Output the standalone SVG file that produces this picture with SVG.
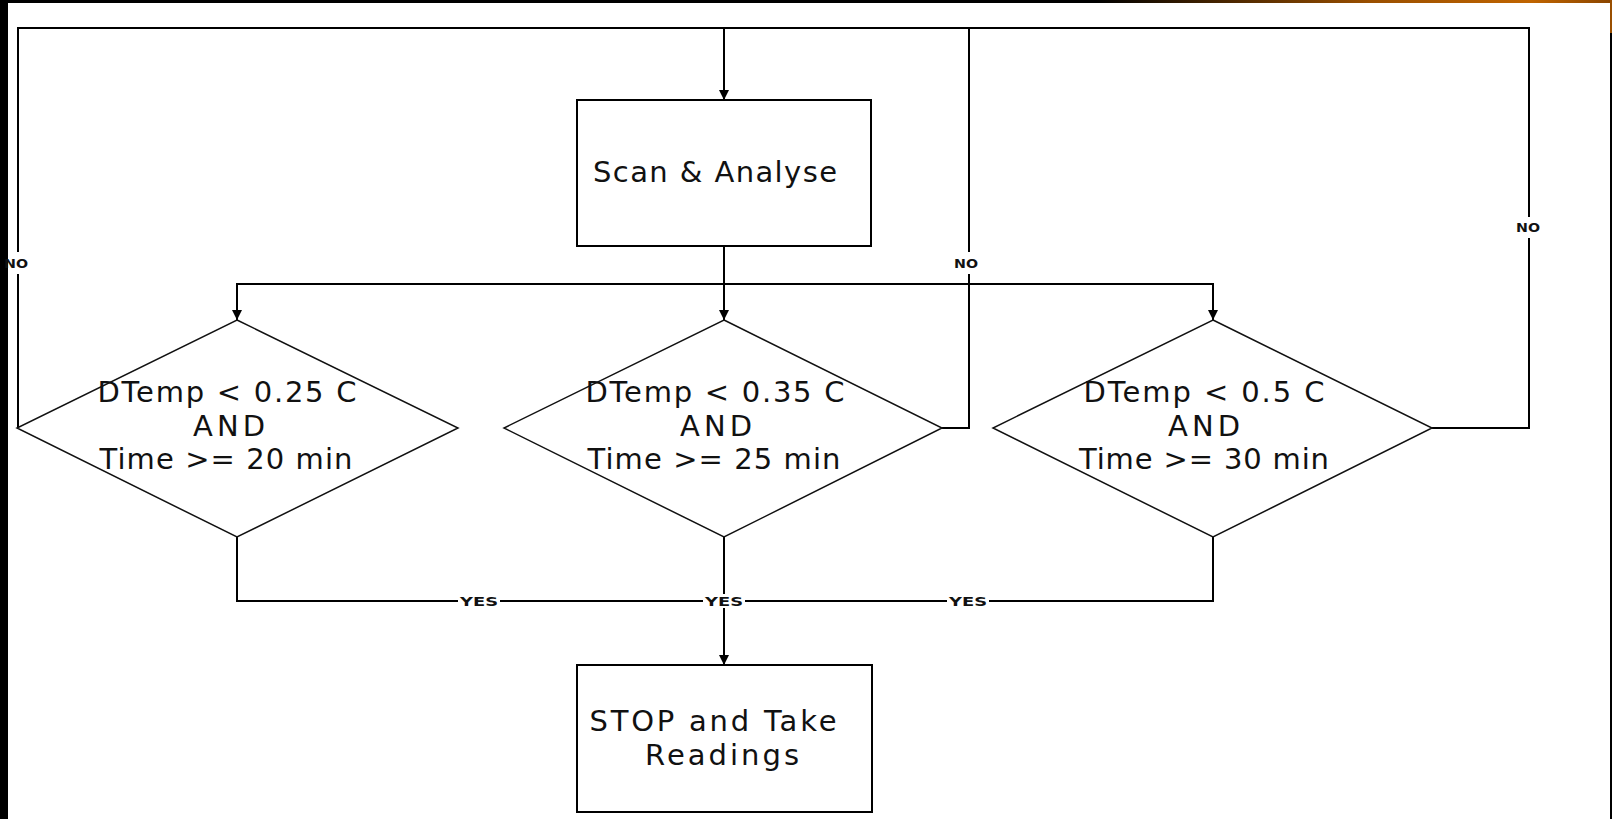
<svg xmlns="http://www.w3.org/2000/svg" width="1612" height="819" viewBox="0 0 1612 819">
  <style>
    .box { fill: #fff; stroke: #000; stroke-width: 2; }
    .dia { fill: #fff; stroke: #111; stroke-width: 1.5; }
    .conn { fill: none; stroke: #000; stroke-width: 2; }
    .txt { font-family: "DejaVu Sans", Verdana, sans-serif; font-size: 29px; fill: #111; text-anchor: middle; }
    .lbl { font-family: "DejaVu Sans", Verdana, sans-serif; font-size: 12px; font-weight: bold; fill: #111; text-anchor: middle; }
    .lblbg { fill: #fff; }
  </style>
  <defs>
    <marker id="arr" viewBox="0 0 10 10" refX="10" refY="5" markerWidth="11" markerHeight="10" markerUnits="userSpaceOnUse" orient="auto">
      <path d="M0,0 L10,5 L0,10 Z" fill="#000"/>
    </marker>
    <linearGradient id="topbar" x1="0" y1="0" x2="1" y2="0">
      <stop offset="0" stop-color="#000"/>
      <stop offset="0.68" stop-color="#000"/>
      <stop offset="0.85" stop-color="#9a4f00"/>
      <stop offset="0.95" stop-color="#c06400"/>
      <stop offset="1" stop-color="#8a4500"/>
    </linearGradient>
  </defs>

  <rect x="0" y="0" width="1612" height="819" fill="#fff"/>
  <!-- frame -->
  <rect x="0" y="0" width="1612" height="3" fill="url(#topbar)"/>
  <rect x="0" y="0" width="8" height="819" fill="#000"/>
  <rect x="1610" y="0" width="2" height="33" fill="#9a4f00"/>
  <rect x="1610" y="33" width="2" height="786" fill="#000"/>

  <g id="connectors">
    <path class="conn" d="M18,428 V28 H724"/>
    <path class="conn" d="M942,428 H969 V28 H724"/>
    <path class="conn" d="M1432,428 H1529 V28 H724"/>
    <path class="conn" d="M724,28 V100" marker-end="url(#arr)"/>
    <path class="conn" d="M724,246 V320" marker-end="url(#arr)"/>
    <path class="conn" d="M724,284 H237 V320" marker-end="url(#arr)"/>
    <path class="conn" d="M724,284 H1213 V320" marker-end="url(#arr)"/>
    <path class="conn" d="M237,537 V601 H724"/>
    <path class="conn" d="M1213,537 V601 H724"/>
    <path class="conn" d="M724,537 V665" marker-end="url(#arr)"/>
    <g id="labels">
      <rect class="lblbg" x="9" y="252" width="20" height="22"/>
      <text class="lbl" x="16" y="268" textLength="24" lengthAdjust="spacingAndGlyphs">NO</text>
      <rect class="lblbg" x="955" y="252" width="28" height="22"/>
      <text class="lbl" x="966" y="268" textLength="24" lengthAdjust="spacingAndGlyphs">NO</text>
      <rect class="lblbg" x="1514" y="217" width="30" height="21"/>
      <text class="lbl" x="1528" y="232" textLength="24" lengthAdjust="spacingAndGlyphs">NO</text>
      <rect class="lblbg" x="458" y="594" width="42" height="14"/>
      <text class="lbl" x="479" y="606" textLength="38" lengthAdjust="spacingAndGlyphs">YES</text>
      <rect class="lblbg" x="703" y="594" width="42" height="14"/>
      <text class="lbl" x="724" y="606" textLength="38" lengthAdjust="spacingAndGlyphs">YES</text>
      <rect class="lblbg" x="947" y="594" width="42" height="14"/>
      <text class="lbl" x="968" y="606" textLength="38" lengthAdjust="spacingAndGlyphs">YES</text>
    </g>
  </g>

  <g id="scan">
    <rect class="box" x="577" y="100" width="294" height="146"/>
    <text class="txt" x="715" y="182" textLength="244" lengthAdjust="spacing">Scan &amp; Analyse</text>
  </g>

  <g id="dec1">
    <polygon class="dia" points="237,320 458,428 237,537 17,428"/>
    <text class="txt" x="227" y="402" textLength="259" lengthAdjust="spacing">DTemp &lt; 0.25 C</text>
    <text class="txt" x="229" y="436" textLength="72" lengthAdjust="spacing">AND</text>
    <text class="txt" x="226" y="469" textLength="253" lengthAdjust="spacing">Time &gt;= 20 min</text>
  </g>

  <g id="dec2">
    <polygon class="dia" points="724,320 942,428 724,537 504,428"/>
    <text class="txt" x="715" y="402" textLength="259" lengthAdjust="spacing">DTemp &lt; 0.35 C</text>
    <text class="txt" x="716" y="436" textLength="72" lengthAdjust="spacing">AND</text>
    <text class="txt" x="714" y="469" textLength="253" lengthAdjust="spacing">Time &gt;= 25 min</text>
  </g>

  <g id="dec3">
    <polygon class="dia" points="1213,320 1432,428 1213,537 993,428"/>
    <text class="txt" x="1204" y="402" textLength="241" lengthAdjust="spacing">DTemp &lt; 0.5 C</text>
    <text class="txt" x="1204" y="436" textLength="72" lengthAdjust="spacing">AND</text>
    <text class="txt" x="1204" y="469" textLength="250" lengthAdjust="spacing">Time &gt;= 30 min</text>
  </g>

  <g id="stop">
    <rect class="box" x="577" y="665" width="295" height="147"/>
    <text class="txt" x="713" y="731" textLength="247" lengthAdjust="spacing">STOP and Take</text>
    <text class="txt" x="722" y="765" textLength="154" lengthAdjust="spacing">Readings</text>
  </g>
</svg>
